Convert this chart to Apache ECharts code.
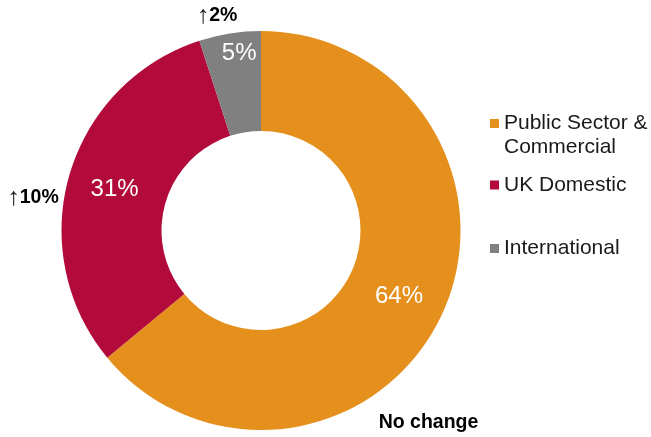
<!DOCTYPE html>
<html>
<head>
<meta charset="utf-8">
<script src="https://cdn.jsdelivr.net/npm/echarts@6/dist/echarts.min.js"></script>
<style>
  html, body { margin: 0; padding: 0; background: #ffffff; }
  #chart { width: 651px; height: 437px; }
</style>
</head>
<body>
<div id="chart"></div>
<script>
// Revenue mix by segment, with year-on-year change
const categories = ['Public Sector &\nCommercial', 'UK Domestic', 'International'];
const shares = [64, 31, 5];
const changes = ['No change', '↑10%', '↑2%'];
const colors = ['#E5901D', '#B20A3B', '#808080'];

const FONT = '"Liberation Sans", Arial, sans-serif';
const CENTER = [261, 230.5];
const RADIUS = [99.5, 199.5];

// where each change note sits around the ring
const changeLabelPos = [[428.5, 423], [33, 198], [217, 16]];

const chart = echarts.init(document.getElementById('chart'), null, { renderer: 'canvas' });

const pieData = categories.map((name, i) => ({
  name: name,
  value: shares[i],
  itemStyle: { color: colors[i] }
}));

// one legend block per segment so each swatch lines up with the first text line
function legendFor(i, top) {
  return {
    orient: 'vertical',
    left: 490,
    top: top,
    padding: 0,
    itemWidth: 9,
    itemHeight: 9,
    itemGap: 0,
    icon: 'rect',
    selectedMode: false,
    data: [categories[i]],
    // a two-line name gets a blank line above it, so the swatch sits on line one
    formatter: function (name) {
      return name.indexOf('\n') >= 0 ? '\n' + name : name;
    },
    textStyle: {
      fontFamily: FONT,
      fontSize: 21,
      lineHeight: 24,
      color: '#1a1a1a'
    }
  };
}

chart.setOption({
  animation: false,
  backgroundColor: '#ffffff',
  legend: [
    legendFor(0, 87.5),
    legendFor(1, 173),
    legendFor(2, 236.5)
  ],
  series: [
    {
      type: 'pie',
      name: 'share',
      center: CENTER,
      radius: RADIUS,
      startAngle: 90,
      clockwise: true,
      silent: true,
      avoidLabelOverlap: false,
      data: pieData,
      label: {
        show: true,
        position: 'inside',
        formatter: '{c}%',
        color: '#ffffff',
        fontFamily: FONT,
        fontSize: 24
      },
      labelLine: { show: false },
      labelLayout: function (p) {
        // the small slice carries its label nearer the outer rim
        if (p.dataIndex === 2) return { dx: 2, dy: -27 };
        return { dy: 1 };
      },
      emphasis: { disabled: true }
    },
    {
      type: 'pie',
      name: 'change',
      center: CENTER,
      radius: RADIUS,
      startAngle: 90,
      clockwise: true,
      silent: true,
      avoidLabelOverlap: false,
      data: pieData.map(d => ({ name: d.name, value: d.value, itemStyle: { color: 'rgba(0,0,0,0)' } })),
      label: {
        show: true,
        position: 'outside',
        formatter: function (p) {
          const t = changes[p.dataIndex];
          if (t.charAt(0) === '↑') return '{arrow|↑}{num|' + t.slice(1) + '}';
          return '{num|' + t + '}';
        },
        rich: {
          arrow: { fontFamily: FONT, fontSize: 25, fontWeight: 'normal', color: '#1a1a1a' },
          num: { fontFamily: FONT, fontSize: 19.5, fontWeight: 'bold', color: '#000000' }
        }
      },
      labelLine: { show: false },
      labelLayout: function (p) {
        const pos = changeLabelPos[p.dataIndex];
        return { x: pos[0], y: pos[1], align: 'center', verticalAlign: 'middle' };
      },
      emphasis: { disabled: true }
    }
  ]
});
</script>
</body>
</html>
